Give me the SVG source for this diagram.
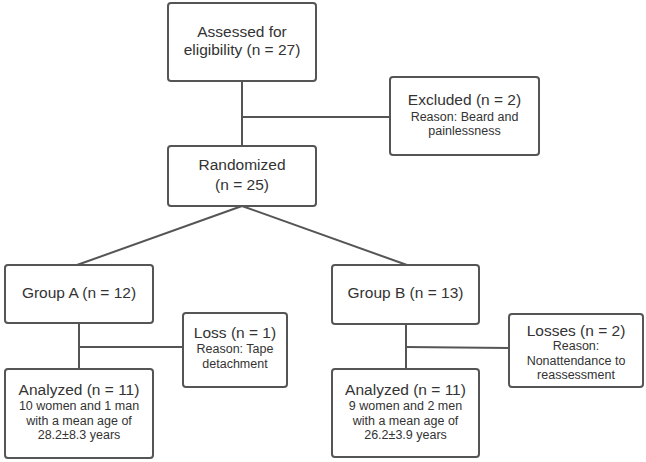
<svg xmlns="http://www.w3.org/2000/svg" width="646" height="462" viewBox="0 0 646 462">
<style>
.box{fill:#fff;stroke:#555;stroke-width:2}
.ln{stroke:#555;stroke-width:2;fill:none}
text{font-family:"Liberation Sans",Arial,sans-serif;fill:#333;text-anchor:middle}
.t{font-size:15.5px}
.s{font-size:12.5px}
</style>
<rect width="646" height="462" fill="#fff"/>
<g id="connectors">
<line class="ln" x1="242" y1="81" x2="242" y2="146"/>
<line class="ln" x1="242" y1="117" x2="390" y2="117"/>
<line class="ln" x1="242" y1="206" x2="77" y2="265"/>
<line class="ln" x1="242" y1="206" x2="407" y2="265"/>
<line class="ln" x1="79" y1="323" x2="79" y2="369"/>
<line class="ln" x1="79" y1="347" x2="183" y2="347"/>
<line class="ln" x1="406" y1="324" x2="406" y2="369"/>
<line class="ln" x1="406" y1="347" x2="509" y2="348"/>
</g>
<g id="assessed">
<rect class="box" x="168" y="3" width="148" height="78" rx="3"/>
<text class="t" x="242" y="37">Assessed for</text>
<text class="t" x="242" y="55">eligibility (n = 27)</text>
</g>
<g id="excluded">
<rect class="box" x="390" y="77" width="149" height="78" rx="3"/>
<text class="t" x="464.5" y="105">Excluded (n = 2)</text>
<text class="s" x="464.5" y="121">Reason: Beard and</text>
<text class="s" x="464.5" y="135">painlessness</text>
</g>
<g id="randomized">
<rect class="box" x="168" y="146" width="148" height="60" rx="3"/>
<text class="t" x="242" y="170">Randomized</text>
<text class="t" x="242" y="190">(n = 25)</text>
</g>
<g id="groupA">
<rect class="box" x="5" y="265" width="148" height="58" rx="3"/>
<text class="t" x="79" y="298">Group A (n = 12)</text>
</g>
<g id="lossA">
<rect class="box" x="183" y="313" width="104" height="74" rx="3"/>
<text class="t" x="235" y="338">Loss (n = 1)</text>
<text class="s" x="235" y="353">Reason: Tape</text>
<text class="s" x="235" y="368">detachment</text>
</g>
<g id="analyzedA">
<rect class="box" x="5" y="369" width="148" height="89" rx="3"/>
<text class="t" x="79" y="395">Analyzed (n = 11)</text>
<text class="s" x="79" y="410">10 women and 1 man</text>
<text class="s" x="79" y="425">with a mean age of</text>
<text class="s" x="79" y="439">28.2±8.3 years</text>
</g>
<g id="groupB">
<rect class="box" x="332" y="265" width="147" height="59" rx="3"/>
<text class="t" x="405.5" y="298">Group B (n = 13)</text>
</g>
<g id="lossB">
<rect class="box" x="509" y="314" width="134" height="73" rx="3"/>
<text class="t" x="576" y="336">Losses (n = 2)</text>
<text class="s" x="576" y="350">Reason:</text>
<text class="s" x="576" y="365">Nonattendance to</text>
<text class="s" x="576" y="379">reassessment</text>
</g>
<g id="analyzedB">
<rect class="box" x="332" y="369" width="147" height="88" rx="3"/>
<text class="t" x="405.5" y="395">Analyzed (n = 11)</text>
<text class="s" x="405.5" y="410">9 women and 2 men</text>
<text class="s" x="405.5" y="425">with a mean age of</text>
<text class="s" x="405.5" y="439">26.2±3.9 years</text>
</g>
</svg>
